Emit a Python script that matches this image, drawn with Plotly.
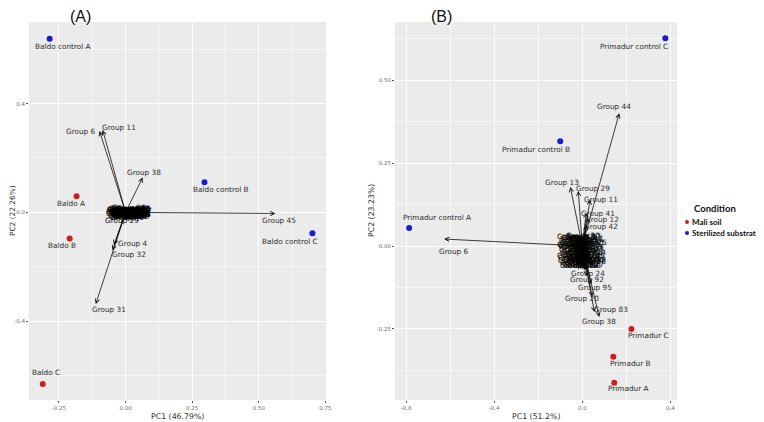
import plotly.graph_objects as go

# ---------------- data: panel A (Baldo) ----------------
a_samples = ["Baldo control A", "Baldo control B", "Baldo control C", "Baldo A", "Baldo B", "Baldo C"]
a_pc1 = [-0.285, 0.296, 0.701, -0.184, -0.210, -0.311]
a_pc2 = [0.638, 0.111, -0.077, 0.059, -0.096, -0.631]
a_cond = ["Sterilized substrate"] * 3 + ["Mali soil"] * 3

# long loading arrows
a_groups = ["Group 45", "Group 6", "Group 11", "Group 38", "Group 31", "Group 4", "Group 32"]
a_load1 = [0.562, -0.098, -0.086, 0.064, -0.112, -0.044, -0.049]
a_load2 = [-0.004, 0.299, 0.303, 0.128, -0.337, -0.120, -0.140]
# short loading arrows (crowded near origin)
a_small_ids = [1, 2, 3, 5, 7, 8, 9, 10, 12, 13, 14, 15, 16, 17, 18, 19, 20, 21, 22, 23, 24, 25, 26,
               27, 28, 29, 30, 33, 34, 35, 36, 37, 39, 40, 41, 42, 43, 44, 46, 47, 48, 49, 50, 51,
               52, 53, 54, 55, 56, 57]
a_small1 = [0.020, 0.032, -0.012, 0.012, 0.028, 0.004, 0.024, -0.010, 0.026, 0.008,
            0.030, 0.016, -0.008, 0.034, 0.000, 0.022, 0.010, -0.004, 0.030, 0.018,
            0.006, 0.033, -0.007, 0.025, 0.014, 0.002, 0.021, 0.011, 0.029, -0.002,
            0.017, 0.007, 0.027, 0.015, 0.001, 0.023, 0.010, 0.031, 0.005, 0.019,
            0.013, 0.026, -0.002, 0.018, 0.009, 0.022, 0.003, 0.028, 0.014, 0.006]
a_small2 = [0.005, -0.003, 0.012, -0.012, 0.002, 0.008, -0.010, -0.005, 0.012, 0.015,
            -0.008, 0.002, 0.005, 0.006, -0.015, 0.016, -0.004, -0.010, 0.009, -0.016,
            0.003, 0.013, 0.010, -0.006, 0.010, -0.008, 0.000, 0.007, -0.011, 0.004,
            -0.013, 0.011, 0.004, -0.002, 0.014, -0.014, 0.001, -0.004, -0.018, 0.008,
            -0.009, 0.015, -0.001, 0.012, -0.012, 0.006, 0.002, -0.007, 0.017, -0.003]

# ---------------- data: panel B (Primadur) ----------------
b_samples = ["Primadur control A", "Primadur control B", "Primadur control C",
             "Primadur A", "Primadur B", "Primadur C"]
b_pc1 = [-0.786, -0.100, 0.377, 0.145, 0.141, 0.223]
b_pc2 = [0.054, 0.316, 0.626, -0.412, -0.334, -0.250]
b_cond = ["Sterilized substrate"] * 3 + ["Mali soil"] * 3

b_groups = ["Group 44", "Group 6", "Group 13", "Group 29", "Group 11", "Group 41", "Group 12",
            "Group 42", "Group 38", "Group 83", "Group 20", "Group 95", "Group 92", "Group 24"]
b_load1 = [0.168, -0.627, -0.054, -0.018, 0.036, 0.018, 0.027,
           0.020, 0.077, 0.055, 0.045, 0.040, 0.020, 0.010]
b_load2 = [0.400, 0.021, 0.178, 0.166, 0.140, 0.100, 0.085,
           0.063, -0.214, -0.199, -0.153, -0.115, -0.090, -0.072]
b_small_ids = [1, 2, 3, 4, 5, 7, 8, 9, 10, 14, 15, 16, 17, 18, 19, 21, 22, 23, 25, 26, 27, 28,
               30, 31, 32, 33, 34, 35, 36, 37, 39, 40, 43, 45, 46, 47, 48, 49, 50, 51, 52, 53,
               54, 55, 56, 57, 58, 59, 60, 61, 62, 63, 64, 65, 66]
b_small1 = [-0.031, -0.014, -0.001, -0.035, 0.012, -0.022, 0.025, -0.039, 0.004, 0.029,
            -0.014, 0.016, -0.026, -0.005, 0.029, -0.036, 0.008, -0.018, 0.033, -0.031,
            0.021, -0.015, 0.005, -0.039, -0.001, 0.021, -0.009, 0.014, -0.024, 0.010,
            -0.029, 0.002, -0.020, 0.027, -0.007, 0.019, -0.032, 0.007, -0.012, 0.024,
            -0.037, -0.003, 0.015, -0.019, 0.031, -0.027, 0.009, -0.010, 0.022, -0.034,
            0.000, 0.017, -0.017, 0.004, -0.025]
b_small2 = [0.020, 0.030, 0.025, -0.020, 0.010, -0.040, 0.000, 0.000, -0.030, -0.020,
            0.015, 0.020, -0.050, -0.060, -0.040, 0.030, -0.020, 0.000, 0.010, -0.035,
            -0.055, -0.055, 0.032, 0.005, -0.010, -0.008, -0.045, -0.035, 0.012, 0.028,
            -0.012, 0.005, -0.025, -0.030, -0.015, 0.022, -0.045, -0.045, -0.028, 0.012,
            -0.028, 0.014, -0.022, 0.025, -0.048, 0.018, -0.060, 0.008, -0.040, 0.002,
            -0.052, -0.005, -0.018, -0.038, -0.058]

# ---------------- styles / label offsets (pixels) ----------------
RED = "#CC1E1E"
BLUE = "#1A1AD2"
COLORS = {"Mali soil": RED, "Sterilized substrate": BLUE}
LBL_FONT = dict(family="DejaVu Sans", size=7.3, color="#2B2B2B")
BLOB_FONT = dict(family="DejaVu Sans", size=7.3, color="#000000")

a_sample_off = {"Baldo control A": (13, -8), "Baldo control B": (17, -7), "Baldo control C": (-22, -8),
                "Baldo A": (-6, -7), "Baldo B": (-8, -7), "Baldo C": (3, 11)}
b_sample_off = {"Primadur control A": (28, 11), "Primadur control B": (-24, -8),
                "Primadur control C": (-31, -8), "Primadur A": (14, -6),
                "Primadur B": (17, -7), "Primadur C": (17, -7)}
a_group_off = {"Group 45": (4, -7), "Group 6": (-18, 0), "Group 11": (16, 2), "Group 38": (1, 5),
               "Group 31": (13, -5), "Group 4": (19, 1), "Group 32": (16, -4), "Group 29": (-4, -6)}
b_group_off = {"Group 44": (-5, 7), "Group 6": (10, -12), "Group 13": (-8, 4), "Group 29": (15, 2),
               "Group 11": (11, 0), "Group 41": (12, -1), "Group 12": (14, -2), "Group 42": (14, -1),
               "Group 38": (0, -4), "Group 83": (17, 3), "Group 20": (-10, -2), "Group 95": (4, -3),
               "Group 92": (0, -4), "Group 24": (4, -4)}

# The page body adds an 8px margin; the figure is sized to fill the rest of the window.
W, H, OFF = 756, 414, 8


def PX(x):
    return (x - OFF) / W


def PY(y):
    return 1 - (y - OFF) / H


fig = go.Figure()

DOM_A = [PX(29), PX(326)]
DOM_B = [PX(395), PX(677)]
DOM_Y = [PY(400), PY(22)]


def add_panel(xa, samples, pc1, pc2, cond, groups, l1, l2, small_ids, s1, s2, s_off, g_off):
    xr = "x" if xa == 1 else "x%d" % xa
    yr = "y" if xa == 1 else "y%d" % xa
    names = ["Group %d" % n for n in small_ids] + groups
    xs = list(s1) + list(l1)
    ys = list(s2) + list(l2)
    for lx, ly in zip(xs, ys):
        fig.add_annotation(x=lx, y=ly, ax=0, ay=0, xref=xr, yref=yr, axref=xr, ayref=yr,
                           text="", showarrow=True, arrowhead=5, arrowsize=1.1,
                           arrowwidth=0.75, arrowcolor="#000000", standoff=0)
    nsmall = len(small_ids)
    for i, (g, lx, ly) in enumerate(zip(names, xs, ys)):
        dx, dy = g_off.get(g, (0, 0))
        fig.add_annotation(x=lx, y=ly, xref=xr, yref=yr, text=g, showarrow=False,
                           xshift=dx, yshift=dy, font=BLOB_FONT if i < nsmall else LBL_FONT)
    for c in ["Mali soil", "Sterilized substrate"]:
        idx = [i for i, v in enumerate(cond) if v == c]
        fig.add_trace(go.Scatter(x=[pc1[i] for i in idx], y=[pc2[i] for i in idx],
                                 mode="markers", xaxis=xr, yaxis=yr, name=c, showlegend=False,
                                 marker=dict(color=COLORS[c], size=6)))
    for s, px, py in zip(samples, pc1, pc2):
        dx, dy = s_off.get(s, (0, 0))
        fig.add_annotation(x=px, y=py, xref=xr, yref=yr, text=s, showarrow=False,
                           xshift=dx, yshift=dy, font=LBL_FONT)


add_panel(1, a_samples, a_pc1, a_pc2, a_cond, a_groups, a_load1, a_load2,
          a_small_ids, a_small1, a_small2, a_sample_off, a_group_off)
add_panel(2, b_samples, b_pc1, b_pc2, b_cond, b_groups, b_load1, b_load2,
          b_small_ids, b_small1, b_small2, b_sample_off, b_group_off)

tickfont = dict(family="DejaVu Sans", size=5.5, color="#6B6B6B")
titlefont = dict(family="DejaVu Sans", size=7.8, color="#333333")
common = dict(showgrid=True, gridcolor="#FFFFFF", gridwidth=1, zeroline=False,
              ticks="outside", ticklen=2, tickcolor="#555555", tickwidth=0.6,
              tickfont=tickfont, showline=False, automargin=False)
minor_style = dict(gridcolor="#F6F6F6", gridwidth=0.5, ticks="")

fig.update_layout(
    width=W, height=H, margin=dict(l=0, r=0, t=0, b=0),
    paper_bgcolor="white", plot_bgcolor="#EBEBEB", showlegend=False,
    xaxis=dict(domain=DOM_A, range=[-0.3625, 0.752], tickvals=[-0.25, 0, 0.25, 0.5, 0.75],
               ticktext=["-0.25", "0.00", "0.25", "0.50", "0.75"], anchor="y",
               minor=dict(tickvals=[-0.375, -0.125, 0.125, 0.375, 0.625], **minor_style), **common),
    yaxis=dict(domain=DOM_Y, range=[-0.69, 0.70], tickvals=[-0.4, 0, 0.4],
               ticktext=["-0.4", "0.0", "0.4"], anchor="x",
               minor=dict(tickvals=[-0.6, -0.2, 0.2, 0.6], **minor_style), **common),
    xaxis2=dict(domain=DOM_B, range=[-0.85, 0.43], tickvals=[-0.8, -0.4, 0, 0.4],
                ticktext=["-0.8", "-0.4", "0.0", "0.4"], anchor="y2",
                minor=dict(tickvals=[-0.6, -0.2, 0.2], **minor_style), **common),
    yaxis2=dict(domain=DOM_Y, range=[-0.464, 0.675], tickvals=[-0.25, 0, 0.25, 0.5],
                ticktext=["-0.25", "0.00", "0.25", "0.50"], anchor="x2",
                minor=dict(tickvals=[-0.375, -0.125, 0.125, 0.375, 0.625], **minor_style), **common),
)


def paper_text(text, px, py, font, angle=0, xanchor="center"):
    fig.add_annotation(text=text, x=PX(px), y=PY(py), xref="paper", yref="paper",
                       showarrow=False, font=font, textangle=angle, xanchor=xanchor,
                       yanchor="middle")


# axis titles
paper_text("PC1 (46.79%)", 177, 416, titlefont)
paper_text("PC1 (51.2%)", 536, 416, titlefont)
paper_text("PC2 (22.26%)", 13, 211, dict(family="DejaVu Sans", size=7.4, color="#333333"), angle=-90)
paper_text("PC2 (23.23%)", 372, 211, titlefont, angle=-90)

# panel tags
tagfont = dict(family="Liberation Sans", size=16, color="#111111")
paper_text("(A)", 80, 17, tagfont)
paper_text("(B)", 441, 17, tagfont)

# legend (manual)
paper_text("<b>Condition</b>", 715, 209, dict(family="Lato", size=9.5, color="#111111"))
for i, (lab, col) in enumerate(COLORS.items()):
    ypx = 222 + 11 * i
    fig.add_shape(type="circle", xref="paper", yref="paper", xsizemode="pixel", ysizemode="pixel",
                  xanchor=PX(687), yanchor=PY(ypx), x0=-2, x1=2, y0=-2, y1=2,
                  fillcolor=col, line=dict(width=0))
    paper_text("<b>%s</b>" % lab, 690, ypx, dict(family="Lato", size=8, color="#111111"),
               xanchor="left")

fig.write_html("out.html")
